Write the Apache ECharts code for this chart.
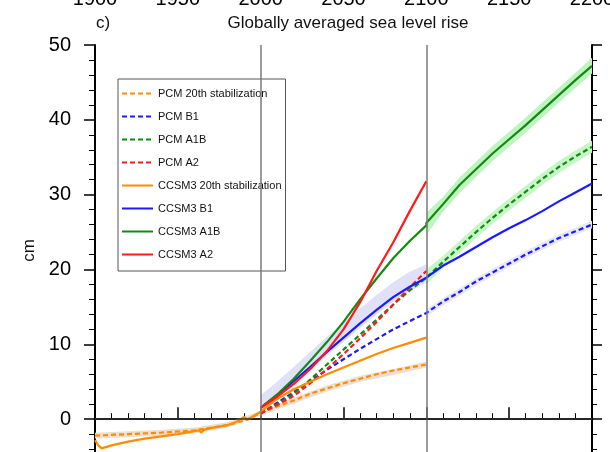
<!DOCTYPE html>
<html><head><meta charset="utf-8">
<script src="https://cdn.jsdelivr.net/npm/echarts@6/dist/echarts.min.js"></script>
<style>html,body{margin:0;padding:0;background:#fff;}#c{width:610px;height:452px;}</style>
</head><body><div id="c"></div>
<script>
// ---- data ----
const xTickYears = [1900, 1950, 2000, 2050, 2100, 2150, 2200];
const refYears = [2000, 2100];
const refLevel = [0];

const years20 = [1900, 1902, 1904, 1910, 1920, 1930, 1940, 1950, 1960, 1963, 1964, 1966, 1970, 1980, 1985, 1990, 1992, 1994, 2000];
const ccsm3Hist = [-2.8, -3.5, -3.9, -3.5, -3.0, -2.6, -2.3, -2.0, -1.6, -1.5, -1.8, -1.4, -1.2, -0.8, -0.4, 0.3, -0.1, 0.2, 1.0];
const pcmYears20 = [1900, 1920, 1940, 1960, 1980, 1990, 2000];
const pcmHist = [-2.2, -2.0, -1.8, -1.5, -0.8, -0.2, 0.8];

const years21 = [2000, 2010, 2020, 2030, 2040, 2050, 2060, 2070, 2080, 2090, 2100];
const ccsm3Stab = [1.0, 2.7, 4.0, 5.0, 6.0, 6.9, 7.8, 8.7, 9.5, 10.2, 10.9];
const pcmStab   = [0.8, 1.7, 2.5, 3.4, 4.1, 4.8, 5.4, 6.0, 6.5, 6.9, 7.3];
const ccsm3B1   = [1.5, 3.2, 5.1, 7.0, 9.0, 10.9, 12.8, 14.6, 16.3, 17.7, 18.9];
const ccsm3A1B  = [1.5, 3.3, 5.4, 7.8, 10.3, 13.0, 16.0, 18.8, 21.5, 23.8, 25.9];
const ccsm3A2   = [1.5, 3.0, 4.7, 6.7, 9.1, 12.0, 15.6, 19.8, 23.6, 27.8, 31.8];
const pcmB1     = [0.7, 2.2, 3.6, 5.1, 6.6, 8.0, 9.4, 10.7, 12.0, 13.1, 14.2];
const pcmA1B    = [0.8, 2.0, 3.4, 5.3, 7.3, 9.3, 11.3, 13.3, 15.3, 17.2, 18.9];
const pcmA2     = [0.8, 1.9, 3.1, 4.8, 6.7, 8.7, 10.8, 13.0, 15.3, 17.6, 19.8];

const years22 = [2100, 2110, 2120, 2130, 2140, 2150, 2160, 2170, 2180, 2190, 2200];
const ccsm3B1Ext  = [19.0, 20.5, 21.7, 23.0, 24.3, 25.5, 26.6, 27.8, 29.1, 30.3, 31.5];
const ccsm3A1BExt = [26.2, 28.7, 31.3, 33.4, 35.5, 37.4, 39.3, 41.3, 43.3, 45.3, 47.2];
const pcmB1Ext    = [14.2, 15.7, 17.0, 18.4, 19.6, 20.8, 22.0, 23.1, 24.2, 25.1, 26.0];
const pcmA1BExt   = [19.0, 21.0, 23.0, 25.0, 26.9, 28.7, 30.4, 32.1, 33.7, 35.1, 36.4];

// spread bands
const bandPcmStabYears = [1900, 1920, 1940, 1960, 1980, 2000, 2020, 2040, 2060, 2080, 2100];
const bandPcmStabLo = [-2.6, -2.4, -2.2, -1.9, -1.1, 0.5, 2.1, 3.7, 5.0, 5.9, 6.9];
const bandPcmStabHi = [-1.8, -1.6, -1.4, -1.1, -0.4, 1.1, 2.9, 4.5, 5.8, 6.7, 7.7];
const bandCcsmB1Lo = [1.2, 2.8, 4.6, 6.5, 8.5, 10.3, 12.2, 14.0, 15.7, 17.1, 18.3];
const bandCcsmB1Hi = [3.2, 5.0, 7.0, 9.0, 11.0, 12.9, 14.8, 16.6, 18.3, 19.7, 20.7];
const bandCcsmA1BLo = [24.6, 27.7, 30.2, 32.4, 34.5, 36.4, 38.3, 40.3, 42.3, 44.3, 46.2];
const bandCcsmA1BHi = [27.6, 29.7, 32.3, 34.4, 36.5, 38.4, 40.3, 42.3, 44.3, 46.3, 48.3];
const bandPcmA1BLo = [18.0, 20.2, 22.2, 24.2, 26.1, 27.9, 29.6, 31.3, 32.9, 34.3, 35.6];
const bandPcmA1BHi = [20.0, 21.8, 23.8, 25.8, 27.7, 29.5, 31.2, 32.9, 34.5, 35.9, 37.2];
const bandPcmB1Lo = [13.7, 15.2, 16.5, 17.9, 19.1, 20.3, 21.5, 22.6, 23.7, 24.6, 25.5];
const bandPcmB1Hi = [14.7, 16.2, 17.5, 18.9, 20.1, 21.3, 22.5, 23.6, 24.7, 25.6, 26.5];

const legendNames = ['PCM 20th stabilization', 'PCM B1', 'PCM A1B', 'PCM A2',
  'CCSM3 20th stabilization', 'CCSM3 B1', 'CCSM3 A1B', 'CCSM3 A2'];

// ---- build ----
const pairs = (xs, ys) => xs.map((x, i) => [x, ys[i]]);
const joinRuns = (a, b) => a.concat(b.slice(1));
const ORANGE = '#ff8c00', BLUE = '#1a1aff', GREEN = '#118a11', RED = '#ff1a1a';
const FONT = 'Liberation Sans, Arial, Helvetica, sans-serif';
const DASH = [5, 3];

function band(xs, lo, hi, color) {
  return {
    type: 'custom', silent: true, z: 1,
    data: [[xs[0], lo[0]]],
    encode: { x: 0, y: 1 },
    renderItem: function (params, api) {
      const top = xs.map((x, i) => api.coord([x, hi[i]]));
      const bot = xs.map((x, i) => api.coord([x, lo[i]])).reverse();
      return { type: 'polygon', shape: { points: top.concat(bot) }, style: { fill: color } };
    }
  };
}
function line(name, data, color, dashed) {
  return { type: 'line', name: name, data: data, symbol: 'none', silent: true, z: 4,
    lineStyle: { color: color, width: 2.2, type: dashed ? DASH : 'solid' }, itemStyle: { color: color } };
}

const series = [
  band(bandPcmStabYears, bandPcmStabLo, bandPcmStabHi, '#eadfd2'),
  band(years21, bandCcsmB1Lo, bandCcsmB1Hi, '#e0e0f8'),
  band(years22, bandCcsmA1BLo, bandCcsmA1BHi, '#bff3bf'),
  band(years22, bandPcmA1BLo, bandPcmA1BHi, '#c6f5c6'),
  band(years22, bandPcmB1Lo, bandPcmB1Hi, '#e8e8fa'),
  {
    type: 'line', name: 'refs', data: [], symbol: 'none', silent: true, z: 2,
    markLine: {
      silent: true, symbol: 'none', label: { show: false }, animation: false,
      data: refYears.map(v => ({ xAxis: v, lineStyle: { color: '#7a7a7a', width: 1.5, type: 'solid' } }))
        .concat(refLevel.map(v => ({ yAxis: v, lineStyle: { color: '#333', width: 1.5, type: 'solid' } })))
    }
  },
  line('PCM 20th stabilization', joinRuns(pairs(pcmYears20, pcmHist), pairs(years21, pcmStab)), ORANGE, true),
  line('PCM B1', joinRuns(pairs(years21, pcmB1), pairs(years22, pcmB1Ext)), BLUE, true),
  line('PCM A1B', joinRuns(pairs(years21, pcmA1B), pairs(years22, pcmA1BExt)), GREEN, true),
  line('PCM A2', pairs(years21, pcmA2), RED, true),
  line('CCSM3 20th stabilization', joinRuns(pairs(years20, ccsm3Hist), pairs(years21, ccsm3Stab)), ORANGE, false),
  line('CCSM3 B1', pairs(years21, ccsm3B1).concat(pairs(years22, ccsm3B1Ext)), BLUE, false),
  line('CCSM3 A1B', pairs(years21, ccsm3A1B).concat(pairs(years22, ccsm3A1BExt)), GREEN, false),
  line('CCSM3 A2', pairs(years21, ccsm3A2), RED, false)
];

const chart = echarts.init(document.getElementById('c'), null, { renderer: 'canvas' });
chart.setOption({
  animation: false,
  backgroundColor: '#fff',
  title: [
    { text: 'Globally averaged sea level rise', left: 343, textAlign: 'center', top: 10,
      textStyle: { fontFamily: FONT, fontSize: 17, fontWeight: 'normal', color: '#111' } },
    { text: 'c)', left: 91, top: 10,
      textStyle: { fontFamily: FONT, fontSize: 17, fontWeight: 'normal', color: '#111' } }
  ],
  legend: {
    data: legendNames, orient: 'vertical', left: 118, top: 79,
    itemWidth: 31, itemHeight: 12, itemGap: 12, padding: [9, 4, 11, 3],
    borderColor: '#555', borderWidth: 1, backgroundColor: '#fff',
    itemStyle: { opacity: 0 },
    textStyle: { fontFamily: FONT, fontSize: 11, color: '#111' },
    selectedMode: false
  },
  grid: { left: 95, right: 18, top: 45, bottom: -42, outerBoundsMode: 'none' },
  xAxis: [{
    type: 'value', position: 'top', min: xTickYears[0], max: xTickYears[xTickYears.length - 1], interval: 50,
    axisLine: { show: true, lineStyle: { color: '#000', width: 2 } },
    axisTick: { show: true, inside: false, length: 12, lineStyle: { color: '#000', width: 1.5 } },
    minorTick: { show: true, splitNumber: 5, length: 6, lineStyle: { color: '#000', width: 1 } },
    splitLine: { show: false },
    axisLabel: { show: true, margin: 36, fontFamily: FONT, fontSize: 20, color: '#000',
      formatter: v => String(v) }
  }],
  yAxis: [{
    type: 'value', position: 'left', min: -10, max: 50, interval: 10,
    name: 'cm', nameLocation: 'middle', nameGap: 57, nameRotate: 90, nameMoveOverlap: false,
    nameTextStyle: { fontFamily: FONT, fontSize: 17, color: '#111', padding: [0, 0, 0, 38] },
    axisLine: { show: true, lineStyle: { color: '#000', width: 2 } },
    axisTick: { show: true, inside: false, length: 11, lineStyle: { color: '#000', width: 1.5 } },
    minorTick: { show: true, splitNumber: 5, length: 6, lineStyle: { color: '#000', width: 1 } },
    splitLine: { show: false },
    axisLabel: { show: true, margin: 24, fontFamily: FONT, fontSize: 20, color: '#000' }
  }, {
    type: 'value', position: 'right', min: -10, max: 50, interval: 10,
    axisLine: { show: true, lineStyle: { color: '#000', width: 2 } },
    axisTick: { show: true, inside: false, length: 10, lineStyle: { color: '#000', width: 1.5 } },
    minorTick: { show: true, splitNumber: 5, length: 5, lineStyle: { color: '#000', width: 1 } },
    splitLine: { show: false },
    axisLabel: { show: false }
  }],
  series: series
});
</script></body></html>
